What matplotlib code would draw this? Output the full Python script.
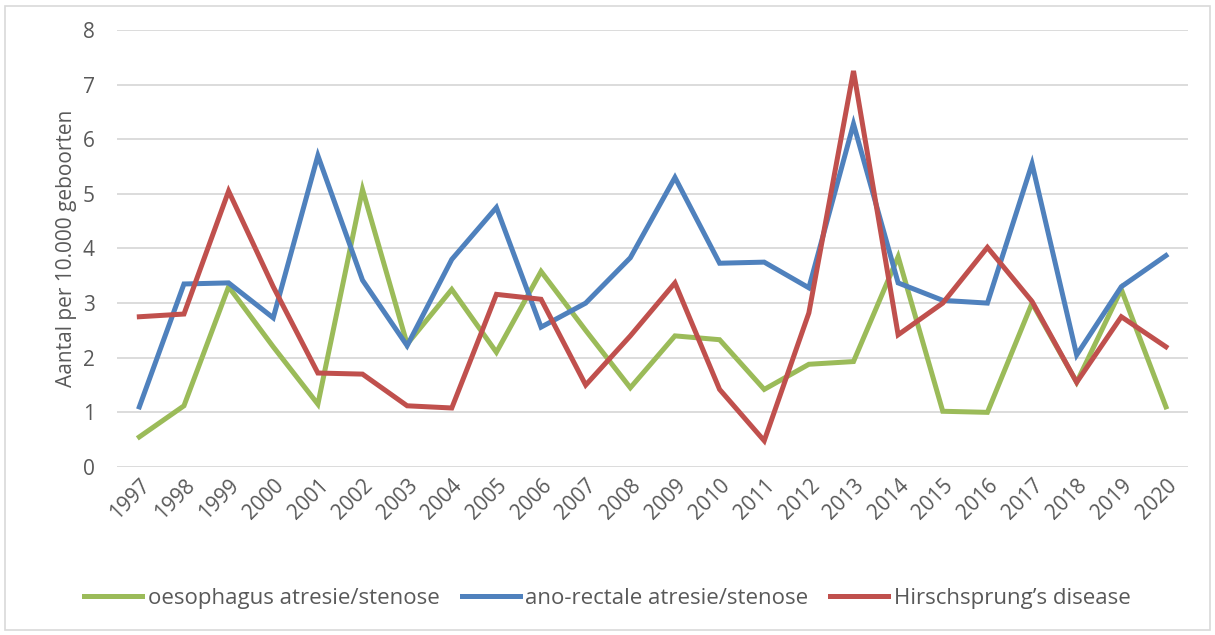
import matplotlib.pyplot as plt
import numpy as np
from matplotlib.patches import Rectangle

plt.rcParams['font.family'] = ['Open Sans', 'DejaVu Sans']

years = [str(y) for y in range(1997, 2021)]

oesophagus = [0.55, 1.12, 3.30, 2.20, 1.15, 5.08, 2.25, 3.25, 2.10, 3.58, 2.50, 1.45,
              2.40, 2.33, 1.42, 1.88, 1.93, 3.85, 1.02, 1.00, 3.00, 1.55, 3.25, 1.10]
anorectaal = [1.10, 3.35, 3.37, 2.73, 5.70, 3.42, 2.22, 3.80, 4.75, 2.56, 3.00, 3.83,
              5.30, 3.73, 3.75, 3.28, 6.28, 3.37, 3.05, 3.00, 5.55, 2.05, 3.30, 3.87]
hirschsprung = [2.75, 2.80, 5.05, 3.30, 1.72, 1.70, 1.12, 1.08, 3.16, 3.07, 1.50, 2.40,
                3.37, 1.42, 0.48, 2.82, 7.25, 2.42, 3.00, 4.02, 3.03, 1.55, 2.75, 2.20]

labels = ["oesophagus atresie/stenose", "ano-rectale atresie/stenose", "Hirschsprung\u2019s disease"]
colors = ["#9BBB59", "#4F81BD", "#C0504D"]

fig = plt.figure(figsize=(12.15, 6.35), dpi=100)
ax = fig.add_axes([0.0963, 0.2646, 0.8817, 0.6882])

x = np.arange(len(years))
for vals, lab, col in zip([oesophagus, anorectaal, hirschsprung], labels, colors):
    ax.plot(x, vals, color=col, lw=3.6, label=lab, solid_joinstyle='miter')

ax.set_xlim(-0.5, len(years) - 0.5)
ax.set_ylim(0, 8)
ax.set_yticks(range(0, 9))
ax.yaxis.grid(True, color="#D9D9D9", lw=1.3)
ax.set_axisbelow(True)
for s in ax.spines.values():
    s.set_visible(False)
ax.tick_params(axis='both', length=0, colors="#595959", labelsize=15)
ax.tick_params(axis='y', pad=16)
ax.set_xticks(x)
ax.set_xticklabels(years, rotation=45, ha='right', rotation_mode='anchor')
ax.tick_params(axis='x', pad=6)
ax.set_ylabel("Aantal per 10.000 geboorten", fontsize=15, color="#595959", labelpad=4)

fig.legend(loc='center', bbox_to_anchor=(0.5, 0.058), ncol=3, frameon=False,
           fontsize=16, handlelength=2.6, handletextpad=0.25, columnspacing=1.0,
           labelcolor="#595959")

fig.patches.append(Rectangle((0.004, 0.008), 0.992, 0.982, transform=fig.transFigure,
                             fill=False, edgecolor="#D9D9D9", lw=1.2))

fig.savefig("out.png", dpi=100)
